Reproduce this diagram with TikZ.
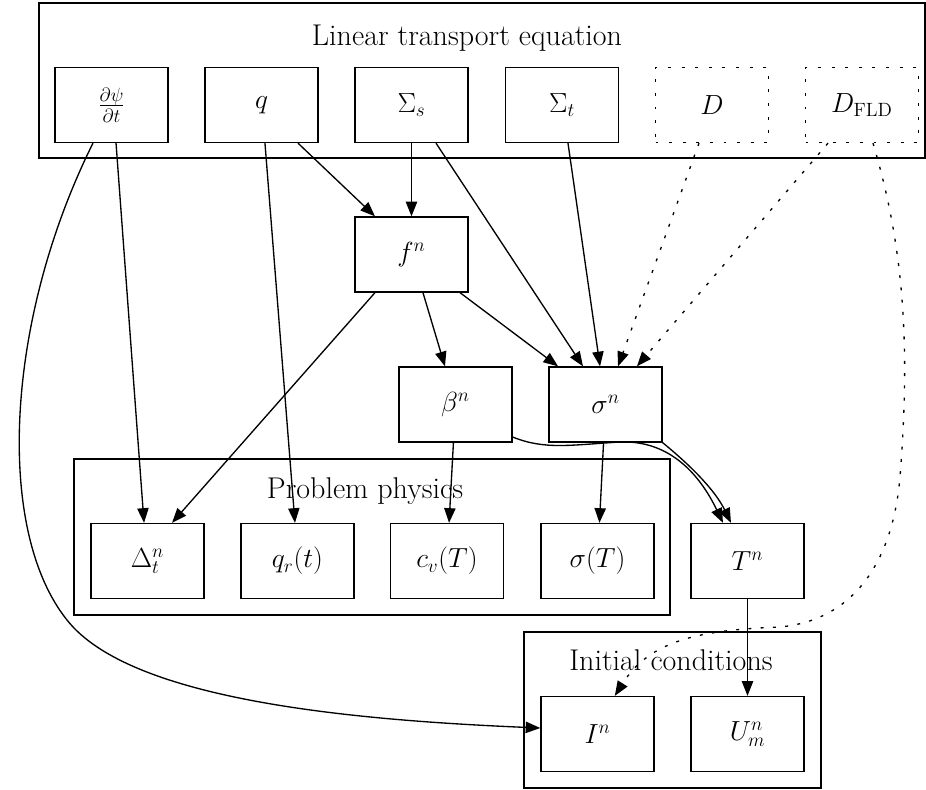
\documentclass[tikz,border=0pt]{standalone}
\usetikzlibrary{positioning,arrows.meta}
\begin{document}
\begin{tikzpicture}[
    x=0.75pt,y=-0.75pt,
    font=\fontsize{19.5}{23}\selectfont,
    box/.style={draw,line width=1pt,minimum width=84.75pt,minimum height=56.25pt,inner sep=0pt},
    dotbox/.style={box,dash pattern=on 2.2pt off 8pt},
    cluster/.style={draw,line width=1pt},
    title/.style={font=\fontsize{22.5}{26}\selectfont},
    arr/.style={line width=1pt,-{Triangle[length=11pt,width=8.5pt]}},
    dotarr/.style={arr,dash pattern=on 2.2pt off 7pt}]
  \useasboundingbox (0,0) rectangle (926,790);

  % groups
  \draw[cluster] (39,3) rectangle (925,158);
  \draw[cluster] (74,459) rectangle (670,615);
  \draw[cluster] (524,632) rectangle (821,788);
  \node[title] (ltetitle) at (467,38.5) {Linear transport equation};
  \node[title] (pptitle) at (365,491) {Problem physics};
  \node[title] (ictitle) at (671,660) {Initial conditions};

  % transport inputs
  \node[box] (dpsi) at (111.5,105) {$\frac{\partial\psi}{\partial t}$};
  \node[box] (q) at (261.5,105) {$q$};
  \node[box] (Ss) at (411.5,105) {$\Sigma_s$};
  \node[box] (St) at (562,105) {$\Sigma_t$};
  \node[dotbox] (D) at (712,105) {$D$};
  \node[dotbox] (Dfld) at (862,105) {$D_{\mathrm{FLD}}$};

  % derived quantities
  \node[box] (fn) at (411.5,254.5) {$f^n$};
  \node[box] (bn) at (455.5,404.5) {$\beta^n$};
  \node[box] (sn) at (605.5,404.5) {$\sigma^n$};

  % physics and initial conditions
  \node[box] (Delta) at (147.5,561) {$\Delta_t^n$};
  \node[box] (qr) at (297.5,561) {$q_r(t)$};
  \node[box] (cv) at (447,561) {$c_v(T)$};
  \node[box] (sT) at (597.5,561) {$\sigma(T)$};
  \node[box] (Tn) at (747.5,561) {$T^n$};
  \node[box] (In) at (597.5,734) {$I^n$};
  \node[box] (Um) at (747.5,734) {$U_m^n$};

  % edges
  \draw[arr] ([xshift=3.4pt]dpsi.south) -- ([xshift=-2.6pt]Delta.north);
  \draw[arr] ([xshift=-13.9pt]dpsi.south) .. controls (5,320) and (-5,530) .. (67,620)
    .. controls (130,700) and (350,720) .. ([yshift=4.5pt]In.west);
  \draw[arr] ([xshift=2.6pt]q.south) -- ([xshift=-1.9pt]qr.north);
  \draw[arr] ([xshift=27.4pt]q.south) -- ([xshift=-27.4pt]fn.north);
  \draw[arr] (Ss) -- (fn);
  \draw[arr] ([xshift=18.4pt]Ss.south) -- ([xshift=-16.9pt]sn.north);
  \draw[arr] ([xshift=4.5pt]St.south) -- ([xshift=-4.1pt]sn.north);
  \draw[dotarr] ([xshift=-9.75pt]D.south) -- ([xshift=9.4pt]sn.north);
  \draw[dotarr] ([xshift=-25.5pt]Dfld.south) -- ([xshift=23.6pt]sn.north);
  \draw[dotarr] ([xshift=8.25pt]Dfld.south) .. controls (905,250) and (910,350) .. (900,477)
    .. controls (893,560) and (855,620) .. (780,627)
    .. controls (700,630) and (650,640) .. ([xshift=13pt]In.north);
  \draw[arr] ([xshift=-27.4pt]fn.south) -- ([xshift=18.4pt]Delta.north);
  \draw[arr] ([xshift=8.6pt]fn.south) -- ([xshift=-7.9pt]bn.north);
  \draw[arr] ([xshift=36.4pt]fn.south) -- ([xshift=-35.6pt]sn.north);
  \draw[arr] (bn) -- (cv);
  \draw[arr] ([yshift=-24.4pt]bn.east) .. controls (545,450) and (570,445) .. (620,442)
    .. controls (670,440) and (700,475) .. ([xshift=-18.4pt]Tn.north);
  \draw[arr] (sn.south east) .. controls (690,465) and (715,490) .. ([xshift=-12.4pt]Tn.north);
  \draw[arr] (sn) -- (sT);
  \draw[arr] (Tn) -- (Um);
\end{tikzpicture}
\end{document}
